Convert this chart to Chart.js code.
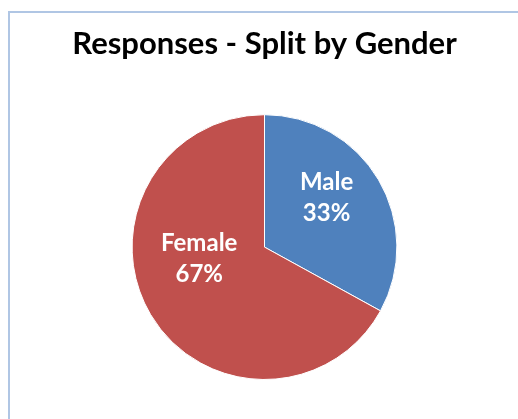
<!DOCTYPE html>
<html>
<head>
<meta charset="utf-8">
<script src="https://cdn.jsdelivr.net/npm/chart.js@4/dist/chart.umd.min.js"></script>
<style>
    html, body { margin: 0; padding: 0; background: #fff; overflow: hidden; }
    #wrap { position: relative; width: 518px; height: 419px; }
    #frame { position: absolute; left: 8px; top: 11px; width: 600px; height: 500px; border: 2px solid #b0c6e4; box-sizing: border-box; }
    canvas { position: absolute; left: 0; top: 0; }
</style>
</head>
<body>
<div id="wrap">
    <div id="frame"></div>
    <canvas id="pieChart" width="518" height="419"></canvas>
</div>
<script>
// --- DATA ---
const categories = ['Male', 'Female'];
const responses = [33, 67];
const sliceColors = ['#4F81BD', '#C0504D'];

// where each label sits inside its slice (degrees shifted from mid-angle, fraction of radius)
const labelPlacement = [
    { shift: -8, dist: 0.60 },
    { shift: 21, dist: 0.50 }
];

// --- SLICE LABEL PLUGIN ---
const sliceLabels = {
    id: 'sliceLabels',
    afterDatasetsDraw(chart) {
        const ctx = chart.ctx;
        const meta = chart.getDatasetMeta(0);
        const data = chart.data.datasets[0].data;
        const total = data.reduce((a, b) => a + b, 0);
        ctx.save();
        ctx.fillStyle = '#ffffff';
        ctx.font = 'bold 24px Lato';
        ctx.textAlign = 'center';
        ctx.textBaseline = 'middle';
        meta.data.forEach((arc, i) => {
            const p = arc.getProps(['x', 'y', 'startAngle', 'endAngle', 'outerRadius'], true);
            const place = labelPlacement[i];
            const mid = (p.startAngle + p.endAngle) / 2 + place.shift * Math.PI / 180;
            const r = p.outerRadius * place.dist;
            const cx = p.x + Math.cos(mid) * r;
            const cy = p.y + Math.sin(mid) * r;
            const pct = Math.round(data[i] / total * 100) + '%';
            ctx.fillText(chart.data.labels[i], cx, cy - 15);
            ctx.fillText(pct, cx, cy + 16);
        });
        ctx.restore();
    }
};

new Chart(document.getElementById('pieChart').getContext('2d'), {
    type: 'pie',
    data: {
        labels: categories,
        datasets: [{
            data: responses,
            backgroundColor: sliceColors,
            borderColor: '#ffffff',
            borderWidth: 1
        }]
    },
    options: {
        responsive: false,
        animation: false,
        layout: { padding: { left: 11, right: 0, top: 0, bottom: 39 } },
        plugins: {
            legend: { display: false },
            tooltip: { enabled: false },
            title: {
                display: true,
                text: 'Responses - Split by Gender',
                color: '#000',
                font: { family: 'Lato', size: 31, weight: 'bold', lineHeight: 1.2 },
                padding: { top: 25, bottom: 52 }
            }
        }
    },
    plugins: [sliceLabels]
});
</script>
</body>
</html>
